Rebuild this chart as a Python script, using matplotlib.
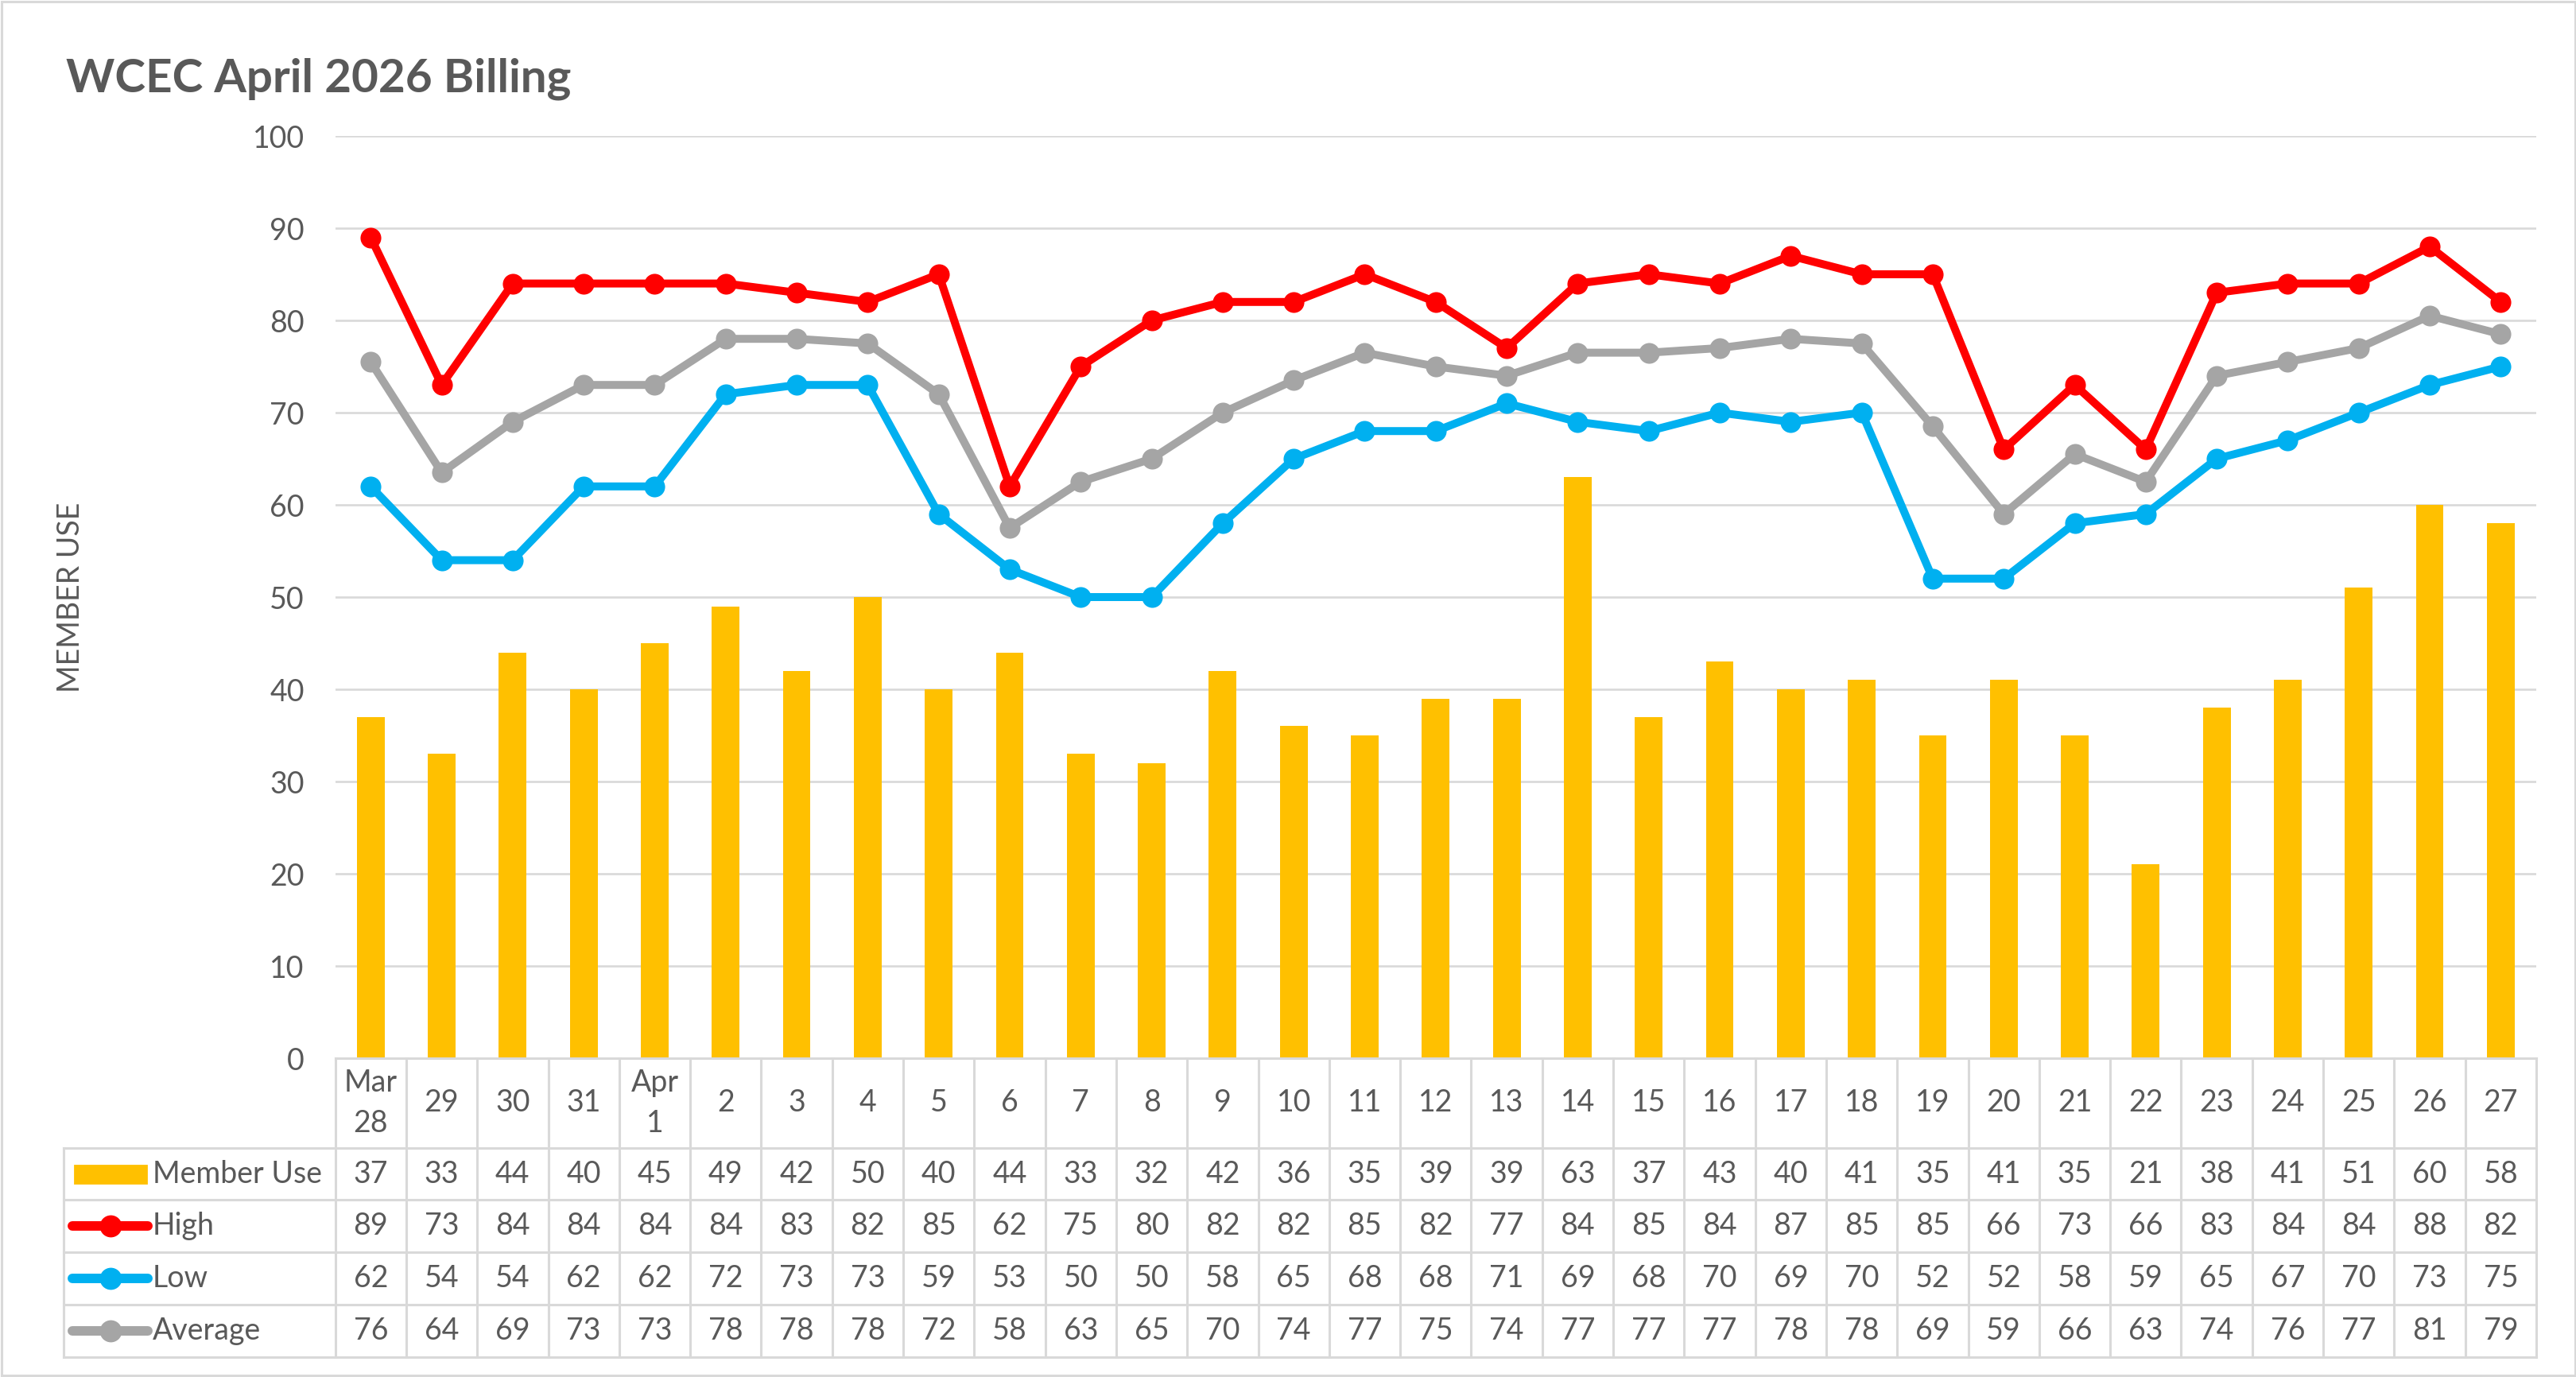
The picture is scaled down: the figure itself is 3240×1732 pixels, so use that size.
import matplotlib
matplotlib.use("Agg")
import matplotlib.pyplot as plt
from matplotlib.patches import Rectangle
from matplotlib.lines import Line2D
import math

plt.rcParams['font.family'] = ['Lato', 'DejaVu Sans']

# ---------------- data ----------------
days = ["Mar\n28", "29", "30", "31", "Apr\n1", "2", "3", "4", "5", "6", "7", "8", "9", "10",
        "11", "12", "13", "14", "15", "16", "17", "18", "19", "20", "21", "22", "23", "24",
        "25", "26", "27"]
member_use = [37, 33, 44, 40, 45, 49, 42, 50, 40, 44, 33, 32, 42, 36, 35, 39, 39, 63, 37, 43,
              40, 41, 35, 41, 35, 21, 38, 41, 51, 60, 58]
high = [89, 73, 84, 84, 84, 84, 83, 82, 85, 62, 75, 80, 82, 82, 85, 82, 77, 84, 85, 84, 87, 85,
        85, 66, 73, 66, 83, 84, 84, 88, 82]
low = [62, 54, 54, 62, 62, 72, 73, 73, 59, 53, 50, 50, 58, 65, 68, 68, 71, 69, 68, 70, 69, 70,
       52, 52, 58, 59, 65, 67, 70, 73, 75]
average = [75.5, 63.5, 69, 73, 73, 78, 78, 77.5, 72, 57.5, 62.5, 65, 70, 73.5, 76.5, 75, 74,
           76.5, 76.5, 77, 78, 77.5, 68.5, 59, 65.5, 62.5, 74, 75.5, 77, 80.5, 78.5]

# ---------------- layout (pixels of the 3241x1732 picture) ----------------
W, H = 3241, 1732
DPI = 200
TXT = "#595959"
GRID = "#D9D9D9"
BAR_C = "#FFC000"
HIGH_C = "#FF0000"
LOW_C = "#00B0F0"
AVG_C = "#A5A5A5"

plot_l, plot_r = 421.6, 3190
plot_t, plot_b = 171, 1331
tab_l = 80
row_edges = [1331, 1444, 1509, 1575, 1641, 1707]

n = len(days)
colw = (plot_r - plot_l) / n

fig = plt.figure(figsize=(W / DPI, H / DPI), dpi=DPI)

# outer chart border
fig.patches.append(Rectangle((2 / W, 2 / H), 1 - 4 / W, 1 - 4 / H, transform=fig.transFigure,
                             fill=False, edgecolor=GRID, lw=1.1))

fig.text(83 / W, 1 - 115 / H, "WCEC April 2026 Billing", fontsize=21, fontweight='bold',
         color=TXT, va='baseline', ha='left')

ax = fig.add_axes([plot_l / W, 1 - plot_b / H, (plot_r - plot_l) / W, (plot_b - plot_t) / H])
x = list(range(n))
ax.bar(x, member_use, width=0.39, color=BAR_C, zorder=2)
lw, ms = 3.6, 8.4
ax.plot(x, high, color=HIGH_C, lw=lw, marker='o', ms=ms, zorder=3)
ax.plot(x, low, color=LOW_C, lw=lw, marker='o', ms=ms, zorder=3)
ax.plot(x, average, color=AVG_C, lw=lw, marker='o', ms=ms, zorder=3)
ax.set_xlim(-0.5, n - 0.5)
ax.set_ylim(0, 100)
ax.set_yticks(range(0, 101, 10))
ax.yaxis.grid(True, color=GRID, lw=0.95, zorder=0)
ax.set_axisbelow(True)
ax.set_xticks([])
ax.tick_params(axis='y', length=0, pad=14, labelsize=13.5, labelcolor=TXT)
for s in ax.spines.values():
    s.set_visible(False)
ax.patch.set_alpha(0)

fig.text(89 / W, 1 - 751 / H, "MEMBER USE", rotation=90, fontsize=13.5, color=TXT,
         ha='center', va='center')

# ---------------- data table ----------------
extra = (plot_l - tab_l) / colw
tab = fig.add_axes([tab_l / W, 1 - row_edges[-1] / H, (plot_r - tab_l) / W,
                    (row_edges[-1] - row_edges[0]) / H])
tab.set_xlim(-0.5 - extra, n - 0.5)
tab.set_ylim(row_edges[-1], row_edges[0])
tab.axis('off')
tab.patch.set_alpha(0)

tlw = 1.1
# horizontal lines
tab.plot([-0.5, n - 0.5], [row_edges[0]] * 2, color=GRID, lw=tlw, clip_on=False)
for yy in row_edges[1:]:
    tab.plot([-0.5 - extra, n - 0.5], [yy, yy], color=GRID, lw=tlw, clip_on=False)
# vertical lines
for i in range(n + 1):
    tab.plot([i - 0.5, i - 0.5], [row_edges[0], row_edges[-1]], color=GRID, lw=tlw, clip_on=False)
tab.plot([-0.5 - extra] * 2, [row_edges[1], row_edges[-1]], color=GRID, lw=tlw, clip_on=False)

fs = 13.5
for i, d in enumerate(days):
    tab.text(i, (row_edges[0] + row_edges[1]) / 2, d, ha='center', va='center', fontsize=fs,
             color=TXT, linespacing=1.5)

rows = [("Member Use", member_use, BAR_C), ("High", high, HIGH_C),
        ("Low", low, LOW_C), ("Average", average, AVG_C)]
key_x0 = -0.5 - extra + (94 - tab_l) / colw
key_x1 = -0.5 - extra + (184 - tab_l) / colw
lab_x = -0.5 - extra + (192 - tab_l) / colw
for r, (name, vals, c) in enumerate(rows):
    yc = (row_edges[r + 1] + row_edges[r + 2]) / 2
    if r == 0:
        tab.add_patch(Rectangle((key_x0, yc - 11), key_x1 - key_x0, 22, color=c))
    else:
        tab.add_line(Line2D([key_x0 - 0.03, key_x1 + 0.02], [yc, yc], color=c, lw=4.3,
                            solid_capstyle='round'))
        tab.plot([(key_x0 + key_x1) / 2], [yc], marker='o', ms=9, color=c)
    tab.text(lab_x, yc, name, ha='left', va='center', fontsize=fs, color=TXT)
    for i, v in enumerate(vals):
        tab.text(i, yc, str(int(math.floor(v + 0.5))), ha='center', va='center', fontsize=fs,
                 color=TXT)

fig.savefig("out.png", dpi=DPI)
